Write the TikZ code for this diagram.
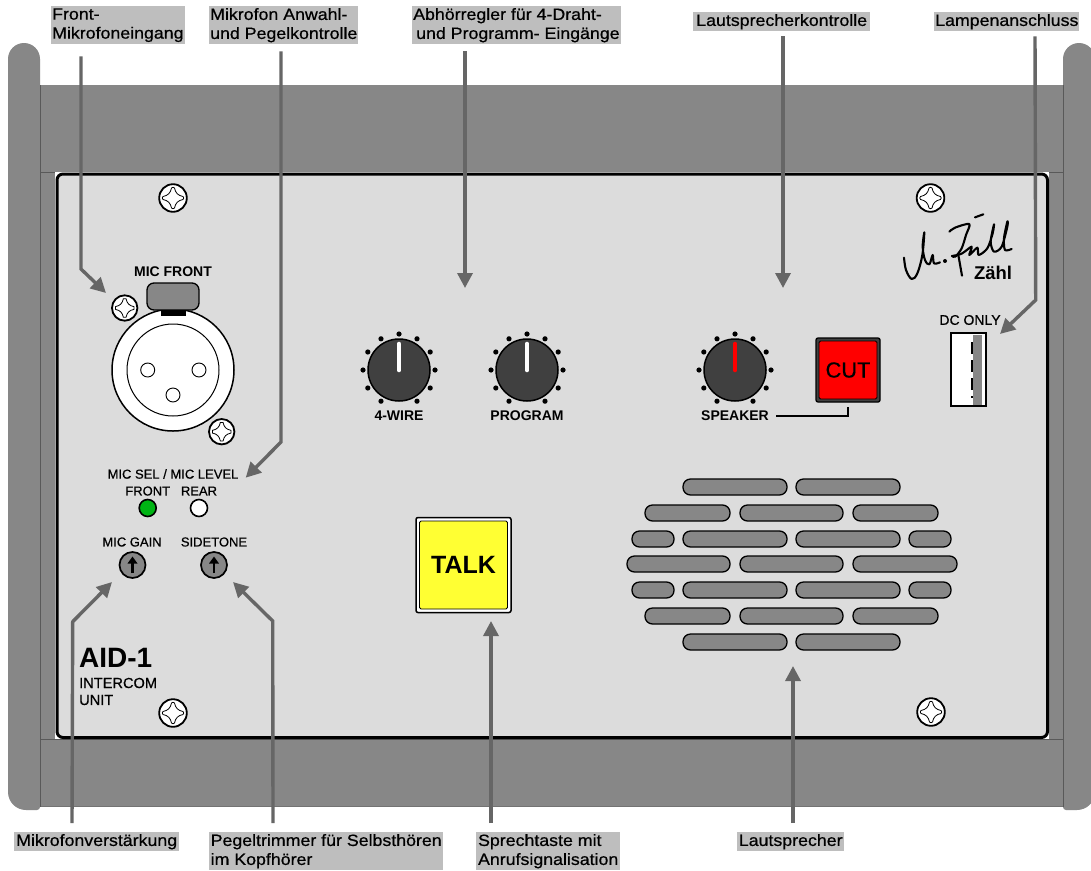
\documentclass[tikz,border=0pt]{standalone}
\usepackage{fontspec}
\setmainfont{Liberation Sans}
\newfontfamily\tagfont[FakeStretch=1.09, FakeBold=0.6]{Liberation Sans}
\newfontfamily\panelfont[FakeBold=0.6]{Liberation Sans}
\usetikzlibrary{arrows.meta}

\definecolor{casegray}{HTML}{878787}
\definecolor{panelgray}{HTML}{DCDCDC}
\definecolor{taggray}{HTML}{BEBEBE}
\definecolor{leadergray}{HTML}{666666}
\definecolor{knobgray}{HTML}{404040}
\definecolor{talkyellow}{HTML}{FFFF33}
\definecolor{ledgreen}{HTML}{00B414}

\tikzset{
    screw/.pic={
        \draw[line width=1.8, fill=white] (0,0) circle (13.8);
        \draw[line width=0.8, fill=white] (10,-1.5) .. controls (11,0) .. (10,1.5)
            .. controls (5,2.5) and (2.5,5) .. (1.5,10) .. controls (0,11) .. (-1.5,10)
            .. controls (-2.5,5) and (-5,2.5) .. (-10,1.5) .. controls (-11,0) .. (-10,-1.5)
            .. controls (-5,-2.5) and (-2.5,-5) .. (-1.5,-10) .. controls (0,-11) .. (1.5,-10)
            .. controls (2.5,-5) and (5,-2.5) .. (10,-1.5) -- cycle;
    }
}

\begin{document}
\begin{tikzpicture}[
        x=1pt, y=-1pt,
        every node/.style={font=\panelfont\fontsize{13}{15}\selectfont, inner sep=0pt},
        tag/.style={fill=taggray, anchor=north west, align=left, inner xsep=1pt, font=\tagfont\fontsize{16.3}{19}\selectfont},
        leader/.style={draw=leadergray, line width=3.4pt, -{Triangle[length=15pt,width=15pt]}},
        knob/.style={circle, draw, line width=1.5pt, fill=knobgray, minimum size=62pt},
        knoblabel/.style={font=\bfseries\fontsize{14}{16}\selectfont},
        led/.style={circle, draw, line width=1.6pt, minimum size=17pt},
        trimmer/.style={circle, draw, line width=1.7pt, fill=casegray, minimum size=26pt},
        slot/.style={draw, line width=1.3pt, fill=casegray, rounded corners=7.5pt},
        edge/.style={draw=black!65, line width=0.8pt}
    ]
    \clip (0,0) rectangle (1091,870);
    \fill[white] (0,0) rectangle (1091,870);
%
    % Case
    \fill[casegray] (40,85) rectangle (1063,806);
    \draw[casegray!85!black, line width=0.5pt] (40,806) -- (1063,806);
    \draw[edge] (40,172) rectangle (1063,739);
    \fill[casegray] (40,806) -- (40,59) arc[start angle=0, end angle=-180, radius=16] -- (8,792) arc[start angle=180, end angle=90, radius=18] -- (37,810) arc[start angle=90, end angle=0, radius=3] -- cycle;
    \fill[casegray] (1063,806) -- (1063,59) arc[start angle=180, end angle=360, radius=16] -- (1095,792) arc[start angle=0, end angle=90, radius=18] -- (1066,810) arc[start angle=90, end angle=180, radius=3] -- cycle;
    \draw[edge] (40,85) -- (40,807);
    \draw[edge] (1063,85) -- (1063,807);
%
    % Front panel
    \fill[white] (55,172) rectangle (1049,739);
    \draw[line width=3pt, fill=panelgray, rounded corners=6pt] (57,174) rectangle (1047.5,737.5);
%
    % Panel screws
    \foreach \sx/\sy in {173/198, 930.5/198, 173/713, 931/712}
        \pic at (\sx,\sy) {screw};
%
    % Microphone socket
    \node[circle, draw, line width=1.5pt, fill=white, minimum size=122pt] (xlr) at (173,370) {};
    \node[circle, draw, line width=1pt, fill=white, minimum size=92pt] (xlrinner) at (xlr.center) {};
    \foreach \px/\py in {147.7/370, 199/370, 173/395}
        \draw[line width=0.9pt, fill=white] (\px,\py) circle (7);
    \draw[line width=1.3pt, fill=casegray, rounded corners=7pt] (147,283) rectangle (199,310);
    \fill (160.5,310) rectangle (186,316);
    \pic[scale=0.92] at (124.7,308) {screw};
    \pic[scale=0.92] at (221.7,431.7) {screw};
    \node[knoblabel] (micfront) at (173,272) {MIC FRONT};
%
    % Mic select and gain
    \node (micsel) at (173,474) {MIC SEL / MIC LEVEL};
    \node (front) at (147.7,491) {FRONT};
    \node (rear) at (199,491) {REAR};
    \node[led, fill=ledgreen] (ledfront) at (147.7,508) {};
    \node[led, fill=white] (ledrear) at (199,508) {};
    \node (micgain) at (132,542) {MIC GAIN};
    \node (sidetone) at (214,542) {SIDETONE};
    \node[trimmer] (trimgain) at (132.5,565) {};
    \node[trimmer] (trimside) at (214,565) {};
    \foreach \t in {trimgain, trimside}
        \draw[line width=2.8pt, -{Triangle[length=7pt,width=9.5pt]}] ([yshift=-8]\t.center) -- ([yshift=8.5]\t.center);
%
    % Type plate
    \node[anchor=base west, font=\bfseries\fontsize{28}{30}\selectfont] (aid) at (79,667) {AID-1};
    \node[anchor=west, font=\panelfont\fontsize{14.6}{16}\selectfont] (intercom) at (79,683) {INTERCOM};
    \node[anchor=west, font=\panelfont\fontsize{14.6}{16}\selectfont] (unit) at (79,700) {UNIT};
%
    % Knobs
    \foreach \n/\kx/\kcol/\ktxt in {wire/399/white/4-WIRE, program/527/white/PROGRAM, speaker/735/red/SPEAKER} {
        \foreach \a in {120,150,...,420}
            \fill (\kx,370) ++(\a:36) circle (2.6);
        \node[knob] (knob\n) at (\kx,370) {};
        \draw[\kcol, line width=4.6pt, line cap=round] (knob\n.center) -- ++(0,-26);
        \node[knoblabel] (label\n) at (\kx,416) {\ktxt};
    }
%
    % Cut button
    \node[draw, line width=1.3pt, fill=knobgray, rounded corners=2pt, minimum size=64pt] (cutframe) at (848,370) {};
    \node[draw, line width=0.8pt, fill=red, rounded corners=1.5pt, minimum size=58pt, font=\panelfont\fontsize{21.8}{24}\selectfont] (cut) at (848,370) {CUT};
    \draw[line width=1.4pt, shorten <=7pt, shorten >=4pt] (labelspeaker.east) -| (cutframe.south);
%
    % Lamp socket
    \node[font=\panelfont\fontsize{14}{16}\selectfont] (dconly) at (970,320) {DC ONLY};
    \node[draw, line width=1.6pt, fill=white, minimum width=35pt, minimum height=73pt] (lamp) at (968.5,369.5) {};
    \fill[casegray] (973,335) rectangle (982,405);
    \draw[line width=2.6pt, dash pattern=on 12pt off 6pt] (972,342) -- (972,398);
%
    % Signature
    \begin{scope}[shift={(890,205)}, x=0.3333pt, y=-0.3333pt, line width=2.1pt, line cap=round, line join=round]
        \draw plot[smooth, tension=0.6] coordinates {(42,158) (48,195) (65,222) (82,205) (97,150) (103,82) (98,125) (105,165) (118,178) (128,150) (132,175) (150,172)};
        \fill (165,168) circle (6);
        \draw plot[smooth, tension=0.5] coordinates {(178,80) (195,68) (238,57) (228,90) (215,130) (196,155) (186,153)};
        \draw plot[smooth, tension=0.5] coordinates {(186,153) (215,146) (245,125) (238,150) (262,128) (266,150) (292,130) (308,85) (312,58) (302,110) (312,140) (335,125) (352,65) (352,50) (342,100) (345,135) (365,132)};
        \draw (205,150) -- (216,212);
        \draw (255,37) -- (280,28);
    \end{scope}
    \node[font=\bfseries\fontsize{18.5}{20}\selectfont] (zaehl) at (993,273) {Zähl};
%
    % Talk button
    \node[draw, line width=1.5pt, fill=white, rounded corners=2pt, minimum size=95pt] (talkframe) at (463.5,565) {};
    \node[draw, line width=0.8pt, fill=talkyellow, rounded corners=1.5pt, minimum size=88pt, font=\bfseries\fontsize{25}{27}\selectfont] (talk) at (463.5,565) {TALK};
%
    % Loudspeaker slots
    \foreach \yy in {487,642} {
        \draw[slot] (683,\yy-8) rectangle (787,\yy+8);
        \draw[slot] (796,\yy-8) rectangle (900,\yy+8);
    }
    \foreach \yy in {513,616} {
        \draw[slot] (645,\yy-8) rectangle (730,\yy+8);
        \draw[slot] (740,\yy-8) rectangle (843,\yy+8);
        \draw[slot] (853,\yy-8) rectangle (938,\yy+8);
    }
    \foreach \yy in {539,590} {
        \draw[slot] (632,\yy-8) rectangle (674,\yy+8);
        \draw[slot] (683,\yy-8) rectangle (787,\yy+8);
        \draw[slot] (796,\yy-8) rectangle (900,\yy+8);
        \draw[slot] (909,\yy-8) rectangle (951,\yy+8);
    }
    \draw[slot] (627,556) rectangle (730,572);
    \draw[slot] (740,556) rectangle (843,572);
    \draw[slot] (853,556) rectangle (957,572);
%
    % Top labels
    \node[tag, minimum width=133pt, minimum height=38pt] (tagfront) at (51,6) {Front-\\Mikrofoneingang};
    \node[tag, minimum width=149pt, minimum height=38pt] (tagmic) at (209,6) {Mikrofon Anwahl-\\und Pegelkontrolle};
    \node[tag, minimum width=206pt, minimum height=38pt] (tagmonitor) at (412,6) {Abhörregler für 4-Draht-\\\hspace*{3pt}und Programm- Eingänge};
    \node[tag, minimum width=177pt, minimum height=19pt] (tagspeaker) at (693,12) {Lautsprecherkontrolle};
    \node[tag, minimum width=142pt, minimum height=19pt] (taglamp) at (934,12) {Lampenanschluss};
%
    % Bottom labels
    \node[tag, minimum width=165pt, minimum height=19pt] (taggain) at (14,832) {Mikrofonverstärkung};
    \node[tag, minimum width=234pt, minimum height=38pt] (tagside) at (209,832) {Pegeltrimmer für Selbsthören\\im Kopfhörer};
    \node[tag, minimum width=144pt, minimum height=38pt] (tagtalk) at (476,832) {Sprechtaste mit\\Anrufsignalisation};
    \node[tag, minimum width=107pt, minimum height=19pt] (tagloud) at (737,832) {Lautsprecher};
%
    % Leader lines
    \coordinate (tipfront) at (106,293);
    \coordinate (tipmic) at (245.7,477.7);
    \coordinate (tipmonitor) at (465,288);
    \coordinate (tipspeaker) at (783,288);
    \coordinate (tiplamp) at (1000,334);
    \coordinate (tipgain) at (112,582);
    \coordinate (tipside) at (233,582);
    \coordinate (tiptalk) at (491,621);
    \coordinate (tiploud) at (793,666);
    \draw[leader] ([shift={(30,12)}]tagfront.south west) -- (81,269) -- (tipfront);
    \draw[leader] ([shift={(72,7)}]tagmic.south west) -- (281,442) -- (tipmic);
    \draw[leader] ([shift={(53,7)}]tagmonitor.south west) -- (tipmonitor);
    \draw[leader] ([shift={(90,5)}]tagspeaker.south west) -- (tipspeaker);
    \draw[leader] ([shift={(101,5)}]taglamp.south west) -- (1035.7,300) -- (tiplamp);
    \draw[leader] ([shift={(58,-9)}]taggain.north west) -- (72.7,621.7) -- (tipgain);
    \draw[leader] ([shift={(64,-9)}]tagside.north west) -- (272.7,621) -- (tipside);
    \draw[leader] ([shift={(15,-9)}]tagtalk.north west) -- (tiptalk);
    \draw[leader] ([shift={(56,-9)}]tagloud.north west) -- (tiploud);
%
\end{tikzpicture}
\end{document}
